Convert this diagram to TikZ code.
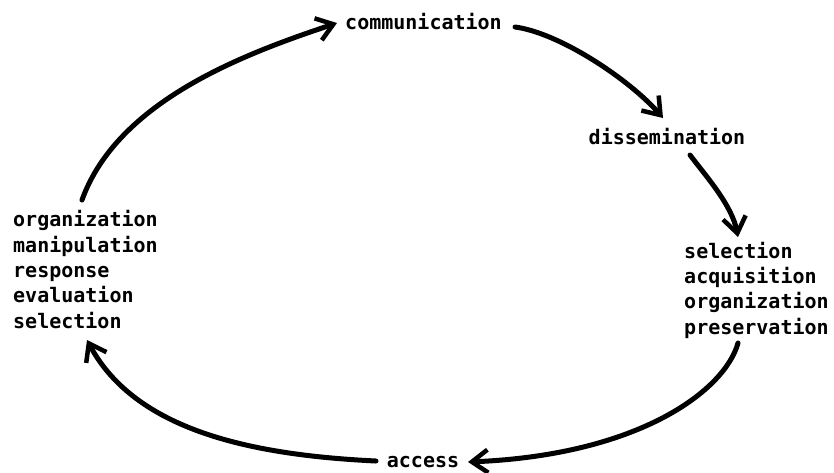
\documentclass[tikz,border=0pt]{standalone}
\usepackage{fontspec}
\newfontfamily\lblfont{DejaVu Sans Mono}
\usetikzlibrary{arrows.meta}
\begin{document}
\begin{tikzpicture}[x=1pt,y=-1pt,
  lbl/.style={inner sep=0pt, font=\lblfont\bfseries\fontsize{20}{25.3}\selectfont, align=left},
  flow/.style={line width=5pt, line cap=round, line join=round,
    -{Straight Barb[length=16pt,width=23pt,line width=4.5pt]}}]
\useasboundingbox[fill=white] (0,0) rectangle (834,472);

% stages of the cycle (a multi-line node sits on the baseline of its last line)
\node[lbl, anchor=base] (comm) at (423.5,29) {communication};
\node[lbl, anchor=base] (diss) at (667,144) {dissemination};
\node[lbl, anchor=base west] (coll) at (684,334) {selection\\acquisition\\organization\\preservation};
\node[lbl, anchor=base] (acc) at (423,467) {access};
\node[lbl, anchor=base west] (use) at (13,328) {organization\\manipulation\\response\\evaluation\\selection};

% connectors around the cycle
\draw[flow] ([shift={(69,-128)}]use.base west) .. controls (118,100) and (247,53) .. ([shift={(-86.5,-6)}]comm.base);
\draw[flow] ([shift={(91.5,-2)}]comm.base) .. controls (560,33) and (630,80) .. ([shift={(-4,-26)}]diss.base);
\draw[flow] ([shift={(23,11)}]diss.base) .. controls (705,175) and (732,205) .. ([shift={(54,-97)}]coll.base west);
\draw[flow] ([shift={(54,9)}]coll.base west) .. controls (725,390) and (640,455) .. ([shift={(45,-5)}]acc.base);
\draw[flow] ([shift={(-47,-6)}]acc.base) .. controls (250,455) and (135,430) .. ([shift={(74,12)}]use.base west);
\end{tikzpicture}
\end{document}
